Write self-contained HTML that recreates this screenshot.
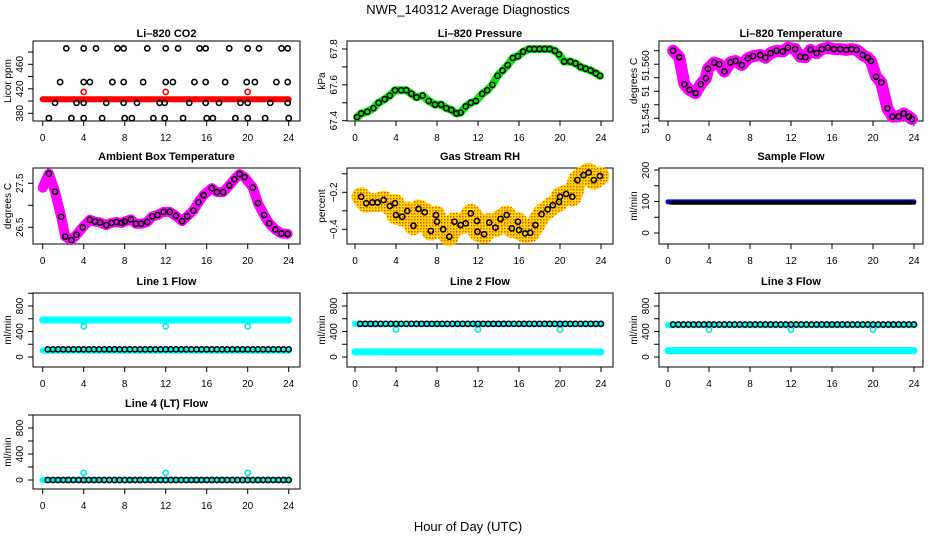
<!DOCTYPE html>
<html><head><meta charset="utf-8"><style>
html,body{margin:0;padding:0;background:#fff;}
svg{display:block;font-family:"Liberation Sans",Arial,sans-serif;}
.tl{font-size:10px;fill:#000;}
.tt{font-size:11px;font-weight:bold;fill:#000;}
</style></head><body>
<svg id="chart" width="936" height="540" viewBox="0 0 936 540">
<defs>
<pattern id="rhpat" width="3" height="3" patternUnits="userSpaceOnUse">
<rect width="3" height="3" fill="#ffe000"/><rect width="1.5" height="1.5" fill="#ff4000"/>
</pattern>
</defs>
<text x="468" y="14" text-anchor="middle" font-size="13">NWR_140312  Average Diagnostics</text>
<text x="468" y="531" text-anchor="middle" font-size="13">Hour of Day (UTC)</text>
</svg>
<script>
// ---- data ----
const hourTicks = [0,4,8,12,16,20,24];
// CO2 (ppm)
const co2TopHours = [2.3,4.0,5.2,7.3,7.9,10.2,12.0,13.2,15.3,15.9,18.2,20.0,21.1,23.3,23.9];
const co2TopValue = 486;
const co2MidHours = [1.7,4.0,4.6,6.8,7.9,9.8,12.0,12.7,14.8,15.9,17.8,19.9,20.7,22.8,23.9];
const co2MidValue = 431;
const co2LowHours = [1.2,3.3,4.0,6.2,7.9,9.2,11.4,11.9,14.3,15.9,17.2,19.3,20.0,22.2,23.9];
const co2LowValue = 397;
const co2BotHours = [0.6,2.8,4.0,5.8,8.0,8.7,10.8,11.9,13.7,16.0,16.6,18.8,20.0,21.7,24.0];
const co2BotValue = 372;
const co2RedBand = [[0,403],[24,403]];
const co2RedOutHours = [4,12,20];
const co2RedOutValue = 415;
// Pressure (kPa)
const pressHours = [0.2,0.6,1.2,1.8,2.3,2.9,3.4,3.9,4.5,5,5.5,6,6.6,7.2,7.8,8.4,8.9,9.4,9.9,10.3,10.8,11.3,11.8,12.4,12.9,13.4,13.9,14.4,14.9,15.4,15.9,16.4,17,17.5,18,18.5,19,19.5,19.9,20.4,21,21.5,22,22.5,23,23.5,23.9];
const pressValues = [67.42,67.44,67.45,67.47,67.50,67.52,67.54,67.57,67.57,67.57,67.55,67.53,67.54,67.51,67.49,67.49,67.47,67.46,67.44,67.445,67.48,67.50,67.51,67.55,67.57,67.60,67.65,67.68,67.71,67.75,67.76,67.785,67.80,67.80,67.80,67.80,67.80,67.79,67.77,67.73,67.73,67.72,67.70,67.69,67.68,67.665,67.65];
// Li-820 temperature (C)
const ltHours = [0.5,1.1,1.6,2.1,2.7,3.2,3.7,3.9,4.5,5.0,5.5,6.1,6.6,7.2,7.8,8.3,9,9.5,10,10.6,11.2,11.7,12.4,12.9,13.4,13.9,14.5,15,15.6,16.2,16.8,17.4,17.9,18.4,19,19.5,19.8,20.3,20.8,21.4,21.9,22.5,23,23.5,23.8];
const ltValues = [51.570,51.5676,51.5576,51.5555,51.5543,51.5576,51.5598,51.5633,51.5656,51.5650,51.5623,51.5657,51.5662,51.5647,51.5672,51.568,51.5684,51.5674,51.5691,51.570,51.5697,51.5711,51.5706,51.5678,51.5676,51.5703,51.5691,51.5706,51.5711,51.5706,51.5706,51.5703,51.5706,51.5703,51.5684,51.5674,51.5662,51.5604,51.5583,51.5487,51.5456,51.5457,51.5468,51.5456,51.5447];
// Ambient box temperature (C)
const ambHours = [0,0.6,1.2,1.8,2.2,2.8,3.3,3.9,4.6,5.1,5.6,6.2,6.7,7.2,7.7,8,8.6,9.1,9.6,10.2,10.7,11.2,11.8,12.4,13,13.6,14.1,14.7,15.2,15.7,16.5,17,17.6,18.2,18.7,19.2,19.7,20.5,21,21.6,22.1,22.7,23.3,23.9];
const ambValues = [27.4,27.72,27.31,26.74,26.29,26.21,26.33,26.5,26.67,26.63,26.61,26.55,26.6,26.62,26.6,26.63,26.68,26.58,26.58,26.62,26.75,26.78,26.85,26.85,26.76,26.64,26.75,26.88,27.07,27.23,27.39,27.30,27.30,27.45,27.59,27.71,27.64,27.4,27.05,26.78,26.59,26.45,26.36,26.35];
// Gas stream RH (percent)
const rhHours = [0.6,1.1,1.7,2.2,2.8,3.4,3.9,4,4.6,5.1,5.7,6.2,6.8,7.4,7.9,8,8.6,9.2,9.7,10.3,10.8,11.3,11.9,11.95,12.6,13.1,13.7,14.2,14.8,15.3,15.9,16,16.6,17.1,17.6,18.2,18.8,19.3,19.9,20,20.6,21.2,21.7,22.3,22.8,23.3,23.9];
const rhValues = [-0.224,-0.259,-0.255,-0.255,-0.242,-0.274,-0.259,-0.323,-0.332,-0.301,-0.381,-0.29,-0.308,-0.409,-0.323,-0.359,-0.40,-0.44,-0.359,-0.377,-0.368,-0.314,-0.355,-0.413,-0.427,-0.364,-0.391,-0.344,-0.323,-0.395,-0.359,-0.404,-0.422,-0.419,-0.377,-0.318,-0.292,-0.27,-0.252,-0.224,-0.209,-0.224,-0.134,-0.107,-0.093,-0.134,-0.112];
// Flows (ml/min)
const flowHours = [0.5,1,1.5,2,2.5,3,3.5,4,4.5,5,5.5,6,6.5,7,7.5,8,8.5,9,9.5,10,10.5,11,11.5,12,12.5,13,13.5,14,14.5,15,15.5,16,16.5,17,17.5,18,18.5,19,19.5,20,20.5,21,21.5,22,22.5,23,23.5,24];
const sampleBlack = 96, sampleBlue = 99;
const line1Black = 120, line1CyanHigh = 580, line1CyanLow = 100, line1Out = 480;
const line2Black = 520, line2CyanHigh = 520, line2CyanLow = 80, line2Out = 430;
const line3Black = 510, line3CyanHigh = 500, line3CyanLow = 100, line3Out = 430;
const line4Black = 0, line4Cyan = 0, line4Out = 110;
const outHours = [4,12,20];

// ---- layout ----
const NS = 'http://www.w3.org/2000/svg';
const svg = document.getElementById('chart');
const cols = [{l:33,r:300,x0:42.7,x24:288.7},{l:347,r:613,x0:355,x24:601},{l:659,r:923,x0:668,x24:914}];
const rows = [{t:41,b:121,tt:37},{t:168,b:244,tt:160},{t:293,b:367,tt:285},{t:415,b:489,tt:407}];

function el(tag, attrs, parent){
  const e = document.createElementNS(NS, tag);
  for (const k in attrs) e.setAttribute(k, attrs[k]);
  (parent||svg).appendChild(e);
  return e;
}
function linY(v1,y1,v2,y2){ return v => y1 + (v-v1)*(y2-y1)/(v2-v1); }

function panel(name, title, ylab, c, r, yfn, yticks, ylabels, labelVals){
  const C = cols[c], R = rows[r];
  const g = el('g', {});
  
  
  const xs = h => C.x0 + h*(C.x24-C.x0)/24;
  const box = el('rect', {x:C.l, y:R.t, width:C.r-C.l, height:R.b-R.t, fill:'none', stroke:'#000', 'stroke-width':1}, g);
  
  
  const t = el('text', {x:(C.l+C.r)/2, y:R.tt, 'text-anchor':'middle', class:'tt'}, g);
  t.textContent = title;
  
  
  const xa = el('g', {}, g);
  
  
  hourTicks.forEach(h => {
    el('line', {x1:xs(h), x2:xs(h), y1:R.b, y2:R.b+5, stroke:'#000'}, xa);
    const tx = el('text', {x:xs(h), y:R.b+20, 'text-anchor':'middle', class:'tl'}, xa);
    tx.textContent = h;
  });
  const ya = el('g', {}, g);
  
  
  yticks.forEach((v,i) => {
    const y = yfn(v);
    el('line', {x1:C.l-5, x2:C.l, y1:y, y2:y, stroke:'#000'}, ya);
  });
  ylabels.forEach((lab,i) => {
    if (!lab) return;
    const y = yfn(labelVals ? labelVals[i] : yticks[i]);
    const tx = el('text', {x:C.l-10, y:y, 'text-anchor':'middle', class:'tl', transform:`rotate(-90 ${C.l-10} ${y})`}, ya);
    tx.textContent = lab;
  });
  const yl = el('text', {x:C.l-22, y:(R.t+R.b)/2, 'text-anchor':'middle', class:'tl', transform:`rotate(-90 ${C.l-22} ${(R.t+R.b)/2})`}, g);
  yl.textContent = ylab;
  
  
  const plot = el('g', {}, g);
  
  
  return {xs, ys:yfn, g:plot};
}
function band(p, hours, vals, color, w, name){
  const pts = hours.map((h,i)=>p.xs(h)+','+p.ys(vals[i])).join(' ');
  const pl = el('polyline', {points:pts, fill:'none', stroke:color, 'stroke-width':w, 'stroke-linejoin':'round', 'stroke-linecap':'round'}, p.g);
  
  
}
function circles(p, hours, vals, color, name, rad){
  hours.forEach((h,i)=>{
    const v = Array.isArray(vals) ? vals[i] : vals;
    const c = el('circle', {cx:p.xs(h), cy:p.ys(v), r:rad||2.6, fill:'none', stroke:color, 'stroke-width':1.6}, p.g);
    
    
  });
}

// CO2
let p = panel('co2','Li\u2013820 CO2','Licor ppm',0,0,linY(380,113.3,460,64.3),[380,400,420,440,460,480],['380','','420','','460','']);
band(p, co2RedBand.map(d=>d[0]), co2RedBand.map(d=>d[1]), '#ff0000', 6, 'co2-red-band');
circles(p, co2RedOutHours, co2RedOutValue, '#ff0000', 'co2-red-point');
circles(p, co2TopHours, co2TopValue, '#000', 'co2-point');
circles(p, co2MidHours, co2MidValue, '#000', 'co2-point');
circles(p, co2LowHours, co2LowValue, '#000', 'co2-point');
circles(p, co2BotHours, co2BotValue, '#000', 'co2-point');

// Pressure
p = panel('pressure','Li\u2013820 Pressure','kPa',1,0,linY(67.4,120.7,67.8,49),[67.4,67.5,67.6,67.7,67.8],['67.4','','67.6','','67.8']);
band(p, pressHours, pressValues, '#00ee00', 8, 'pressure-green-band');
circles(p, pressHours, pressValues, '#000', 'pressure-point');

// Li-820 Temperature
p = panel('li820-temp','Li\u2013820 Temperature','degrees C',2,0,linY(51.545,118.3,51.570,50.7),[51.545,51.55,51.555,51.56,51.565,51.57],['51.545','51','51.560'],[51.545,51.555,51.5645]);
band(p, ltHours, ltValues, '#ff00ff', 12, 'li820-temp-magenta-band');
circles(p, ltHours, ltValues, '#000', 'li820-temp-point');

// Ambient
p = panel('ambient-temp','Ambient Box Temperature','degrees C',0,1,linY(26.5,227.3,27.5,183.3),[26.5,27,27.5],['26.5','','27.5']);
band(p, ambHours, ambValues, '#ff00ff', 10, 'ambient-magenta-band');
circles(p, ambHours.slice(1), ambValues.slice(1), '#000', 'ambient-point');

// RH
p = panel('gas-rh','Gas Stream RH','percent',1,1,linY(-0.4,229.3,-0.2,192.3),[-0.4,-0.3,-0.2,-0.1],['\u22120.4','','\u22120.2','']);
band(p, rhHours, rhValues, 'url(#rhpat)', 19, 'rh-band');
circles(p, rhHours, rhValues, '#000', 'rh-point');

// Sample flow
p = panel('sample-flow','Sample Flow','ml/min',2,1,linY(0,233,200,170),[0,50,100,150,200],['0','','100','','200']);
band(p, [0,24], [sampleBlue,sampleBlue], '#0000ff', 5, 'sample-blue-band');
band(p, [0.3,24], [sampleBlack,sampleBlack], '#000', 4, 'sample-black-band');

// Line flows
const flowTicks = [0,200,400,600,800,1000], flowLabels = ['0','','400','','800',''];
p = panel('line1-flow','Line 1 Flow','ml/min',0,2,linY(0,357,800,306),flowTicks,flowLabels);
band(p, [0,24], [line1CyanHigh,line1CyanHigh], '#00ffff', 7, 'line1-cyan-high');
band(p, [0,24], [line1CyanLow,line1CyanLow], '#00ffff', 6, 'line1-cyan-low');
circles(p, outHours, line1Out, '#00e5e5', 'line1-cyan-point');
circles(p, flowHours, line1Black, '#000', 'line1-point');

p = panel('line2-flow','Line 2 Flow','ml/min',1,2,linY(0,357,800,306),flowTicks,flowLabels);
band(p, [0,24], [line2CyanHigh,line2CyanHigh], '#00ffff', 6, 'line2-cyan-high');
band(p, [0,24], [line2CyanLow,line2CyanLow], '#00ffff', 7, 'line2-cyan-low');
circles(p, outHours, line2Out, '#00e5e5', 'line2-cyan-point');
circles(p, flowHours, line2Black, '#000', 'line2-point');

p = panel('line3-flow','Line 3 Flow','ml/min',2,2,linY(0,357,800,306),flowTicks,flowLabels);
band(p, [0,24], [line3CyanHigh,line3CyanHigh], '#00ffff', 6, 'line3-cyan-high');
band(p, [0,24], [line3CyanLow,line3CyanLow], '#00ffff', 7, 'line3-cyan-low');
circles(p, outHours, line3Out, '#00e5e5', 'line3-cyan-point');
circles(p, flowHours, line3Black, '#000', 'line3-point');

p = panel('line4-flow','Line 4 (LT) Flow','ml/min',0,3,linY(0,480,800,428),flowTicks,flowLabels);
band(p, [0,24], [line4Cyan,line4Cyan], '#00ffff', 6, 'line4-cyan');
circles(p, outHours, line4Out, '#00e5e5', 'line4-cyan-point');
circles(p, flowHours, line4Black, '#000', 'line4-point');
</script>
</body></html>
